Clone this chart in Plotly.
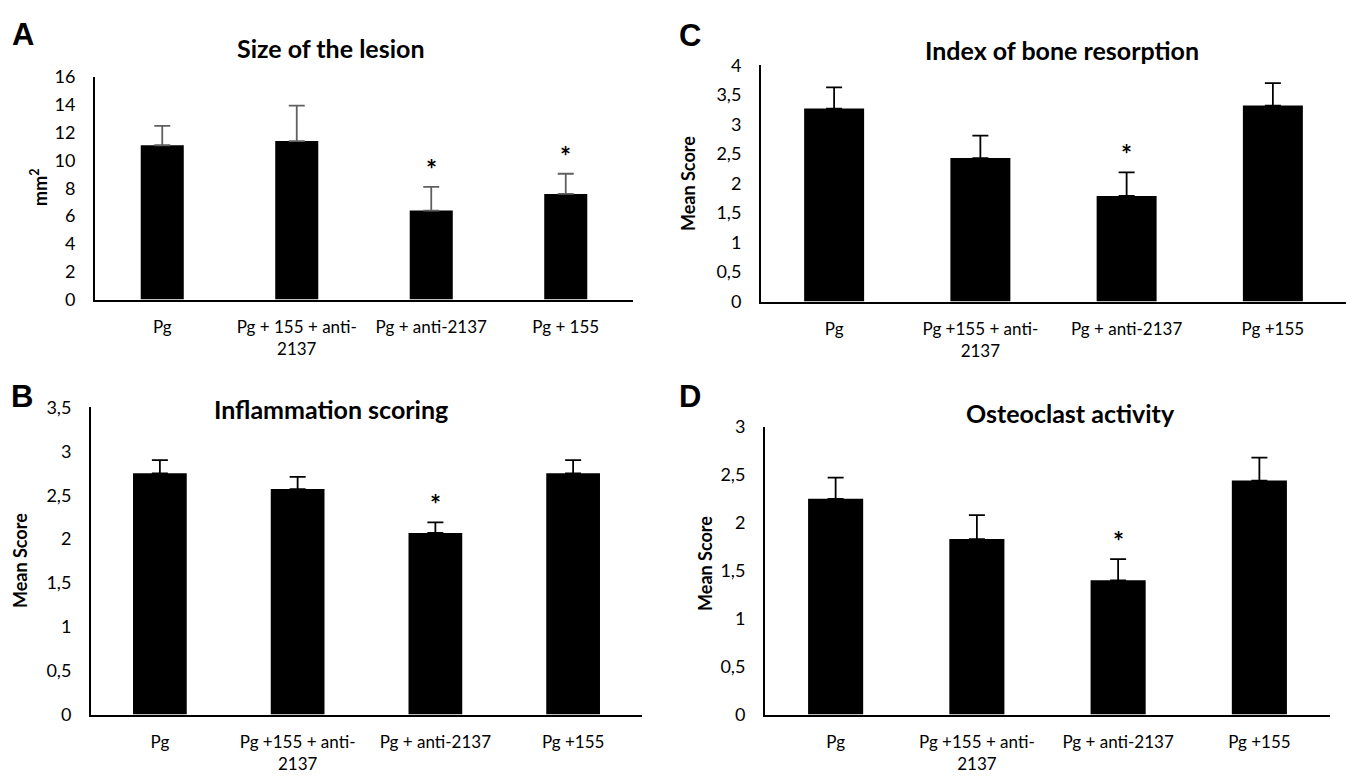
import plotly.graph_objects as go

# ---- data ----
cats_a = ["Pg", "Pg + 155 + anti-<br>2137", "Pg + anti-2137", "Pg + 155"]
cats_bcd = ["Pg", "Pg +155 + anti-<br>2137", "Pg + anti-2137", "Pg +155"]

lesion_mean = [11.1, 11.4, 6.4, 7.6]
lesion_err = [1.4, 2.55, 1.7, 1.45]
lesion_sig = [False, False, True, True]

bone_mean = [3.27, 2.43, 1.79, 3.32]
bone_err = [0.36, 0.38, 0.40, 0.38]
bone_sig = [False, False, True, False]

infl_mean = [2.75, 2.57, 2.07, 2.75]
infl_err = [0.15, 0.14, 0.12, 0.15]
infl_sig = [False, False, True, False]

osteo_mean = [2.25, 1.83, 1.40, 2.44]
osteo_err = [0.22, 0.25, 0.22, 0.24]
osteo_sig = [False, False, True, False]

W, H = 1355, 777
FONT = "Lato"

def px2x(p):
    return p / W

def px2y(p):
    return 1 - p / H

panels = [
    dict(letter="A", title="Size of the lesion", ytitle="mm<sup>2</sup>", cats=cats_a,
         mean=lesion_mean, err=lesion_err, sig=lesion_sig,
         xd=(95, 633), yd=(67, 296), yr=16, dtick=2, ecol="#606060", bw=0.32,
         lpos=(23, 23), tpos=(331, 37), ypos=(39, 181)),
    dict(letter="C", title="Index of bone resorption", ytitle="Mean Score", cats=cats_bcd,
         mean=bone_mean, err=bone_err, sig=bone_sig,
         xd=(761, 1346), yd=(55, 298), yr=4, dtick=0.5, ecol="#000000", bw=0.41,
         lpos=(690, 24), tpos=(1062, 39), ypos=(688, 177)),
    dict(letter="B", title="Inflammation scoring", ytitle="Mean Score", cats=cats_bcd,
         mean=infl_mean, err=infl_err, sig=infl_sig,
         xd=(91, 642), yd=(407, 723), yr=3.5, dtick=0.5, ecol="#000000", bw=0.39,
         lpos=(22, 396), tpos=(331, 409), ypos=(20, 565)),
    dict(letter="D", title="Osteoclast activity", ytitle="Mean Score", cats=cats_bcd,
         mean=osteo_mean, err=osteo_err, sig=osteo_sig,
         xd=(765, 1330), yd=(427, 723), yr=3, dtick=0.5, ecol="#000000", bw=0.39,
         lpos=(690, 396), tpos=(1070, 413), ypos=(705, 567)),
]

fig = go.Figure()
annotations = []

def fmt(v):
    return ("%g" % v).replace(".", ",")

for i, p in enumerate(panels):
    n = "" if i == 0 else str(i + 1)
    xa, ya = "x" + n, "y" + n
    fig.add_trace(go.Bar(
        x=p["cats"], y=p["mean"], width=p["bw"],
        marker=dict(color="#000000", line=dict(width=0)),
        error_y=dict(type="data", array=p["err"], arrayminus=[0] * 4, symmetric=False,
                     color=p["ecol"], thickness=1.8, width=8),
        xaxis=xa, yaxis=ya, showlegend=False, hoverinfo="skip",
    ))
    tickvals = []
    v = 0.0
    while v <= p["yr"] + 1e-9:
        tickvals.append(round(v, 3))
        v += p["dtick"]
    fig.layout["xaxis" + n] = dict(
        domain=[px2x(p["xd"][0]), px2x(p["xd"][1])], anchor=ya,
        showline=True, linecolor="#000000", linewidth=2, ticks="",
        tickfont=dict(family=FONT, size=17, color="#000000"),
        ticklabelstandoff=11, fixedrange=True, showgrid=False,
    )
    fig.layout["yaxis" + n] = dict(
        domain=[px2y(p["yd"][1]), px2y(p["yd"][0])], anchor=xa,
        range=[0, p["yr"]], tickvals=tickvals, ticktext=[fmt(t) for t in tickvals],
        showline=True, linecolor="#000000", linewidth=2, ticks="",
        tickfont=dict(family=FONT, size=18, color="#000000"),
        ticklabelstandoff=14, showgrid=False, zeroline=False, fixedrange=True,
    )
    for j, s in enumerate(p["sig"]):
        if s:
            annotations.append(dict(
                x=p["cats"][j], y=p["mean"][j] + p["err"][j], xref=xa, yref=ya,
                text="<b>*</b>", showarrow=False, yanchor="bottom", yshift=0,
                font=dict(family=FONT, size=26, color="#000000"),
            ))
    annotations.append(dict(
        x=px2x(p["lpos"][0]), y=px2y(p["lpos"][1]), xref="paper", yref="paper",
        text="<b>%s</b>" % p["letter"], showarrow=False, xanchor="center", yanchor="middle",
        font=dict(family="Liberation Sans", size=31, color="#000000"),
    ))
    annotations.append(dict(
        x=px2x(p["tpos"][0]), y=px2y(p["tpos"][1]), xref="paper", yref="paper",
        text="<b>%s</b>" % p["title"], showarrow=False, xanchor="center", yanchor="middle",
        font=dict(family=FONT, size=25, color="#000000"),
    ))
    annotations.append(dict(
        x=px2x(p["ypos"][0]), y=px2y(p["ypos"][1]), xref="paper", yref="paper",
        text="<b>%s</b>" % p["ytitle"], showarrow=False, xanchor="center", yanchor="middle",
        textangle=-90, font=dict(family=FONT, size=18, color="#000000"),
    ))

fig.update_layout(
    width=W, height=H, margin=dict(l=0, r=0, t=0, b=0),
    paper_bgcolor="#ffffff", plot_bgcolor="#ffffff",
    annotations=annotations,
)

fig.write_html("out.html", config={"displayModeBar": False},
               post_script="document.body.style.margin='0px';document.body.style.overflow='hidden';")
